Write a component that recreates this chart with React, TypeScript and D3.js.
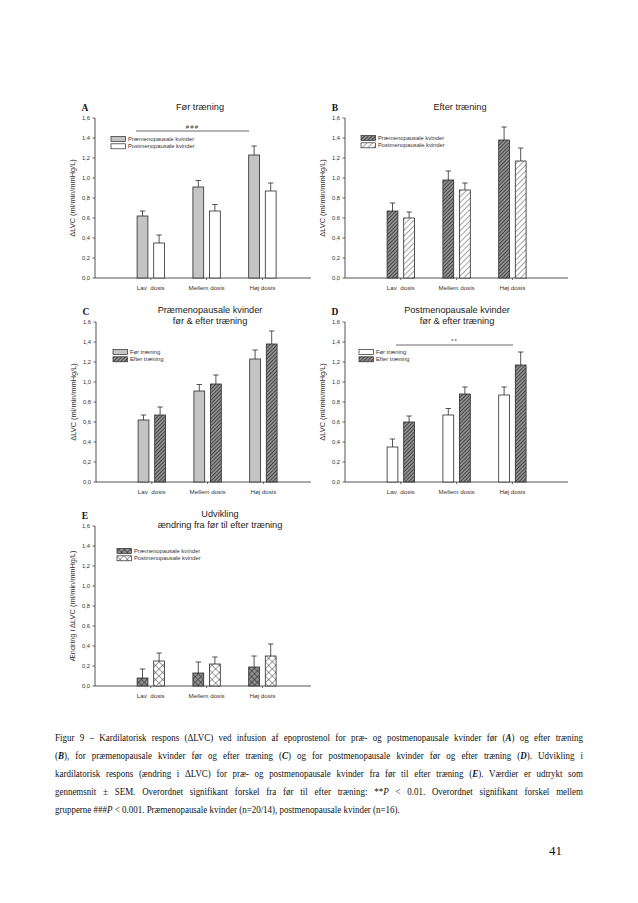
import React from "react";
import * as d3 from "d3";

// ---------- data ----------
const categories = ["Lav  dosis", "Mellem dosis", "Høj dosis"];
const yTickValues = [0, 0.2, 0.4, 0.6, 0.8, 1.0, 1.2, 1.4, 1.6];

const preBefore = [0.62, 0.91, 1.23];
const preBeforeSem = [0.05, 0.065, 0.09];
const postBefore = [0.35, 0.67, 0.87];
const postBeforeSem = [0.08, 0.065, 0.08];
const preAfter = [0.67, 0.98, 1.38];
const preAfterSem = [0.08, 0.09, 0.13];
const postAfter = [0.6, 0.88, 1.17];
const postAfterSem = [0.06, 0.07, 0.13];
const preChange = [0.08, 0.13, 0.19];
const preChangeSem = [0.09, 0.11, 0.11];
const postChange = [0.25, 0.22, 0.3];
const postChangeSem = [0.08, 0.07, 0.12];

const captionLines = [
  "Figur 9 – Kardilatorisk respons (ΔLVC) ved infusion af epoprostenol for præ- og postmenopausale kvinder før (|A|) og efter træning",
  "(|B|), for præmenopausale kvinder før og efter træning (|C|) og for postmenopausale kvinder før og efter træning (|D|). Udvikling i",
  "kardilatorisk respons (ændring i ΔLVC) for præ- og postmenopausale kvinder fra før til efter træning (|E|). Værdier er udtrykt som",
  "gennemsnit ± SEM. Overordnet signifikant forskel fra før til efter træning: **~P~ < 0.01. Overordnet signifikant forskel mellem",
  "grupperne ###~P~ < 0.001. Præmenopausale kvinder (n=20/14), postmenopausale kvinder (n=16).",
];

const SANS = "'Liberation Sans', Arial, sans-serif";
const SERIF = "'Liberation Serif', 'Times New Roman', serif";
const INK = "#2a2a2a";

type Series = { label: string; values: number[]; sem: number[]; fill: string };

type PanelProps = {
  letter: string;
  title: string[];
  x0: number;
  xRight: number;
  yBottom: number;
  yTop: number;
  yLabel: string;
  series: Series[];
  legendDx: number;
  legendDy: number;
  sig?: { from: number; to: number; value: number; text: string };
  titleCx: number;
};

function Panel(p: PanelProps) {
  const y = d3.scaleLinear().domain([0, 1.6]).range([p.yBottom, p.yTop]);
  const x = d3.scaleLinear().domain([0, 1]).range([p.x0, p.x0 + 55.8]);
  const barW = 10.8;
  const off = 8.3;
  const fmt = (v: number) => d3.format(".1f")(v).replace(".", ",");
  const mid = (p.yBottom + p.yTop) / 2;
  return (
    <g>
      <text x={p.x0 - 10} y={p.yTop - 7.5} fontFamily={SERIF} fontWeight="bold" fontSize={9.5} textAnchor="middle" fill="#111">
        {p.letter}
      </text>
      {p.title.map((t, i) => (
        <text key={i} x={p.titleCx} y={p.yTop - 8 + i * 10.5 + (p.title.length > 1 ? -1 : 0)} fontFamily={SANS} fontSize={9.2} textAnchor="middle" fill="#222">
          {t}
        </text>
      ))}
      <line x1={p.x0} x2={p.x0} y1={y(0)} y2={y(1.6)} stroke={INK} strokeWidth={0.8} />
      {yTickValues.map((v) => (
        <g key={v}>
          <line x1={p.x0 - 2.5} x2={p.x0} y1={y(v)} y2={y(v)} stroke={INK} strokeWidth={0.7} />
          <text x={p.x0 - 5} y={y(v) + 2} fontFamily={SANS} fontSize={5.8} textAnchor="end" fill="#333">
            {fmt(v)}
          </text>
        </g>
      ))}
      <text
        transform={`translate(${p.x0 - 20},${mid}) rotate(-90)`}
        fontFamily={SANS}
        fontSize={7.4}
        textAnchor="middle"
        fill="#333"
      >
        {p.yLabel}
      </text>
      <line x1={p.x0} x2={p.xRight} y1={y(0)} y2={y(0)} stroke={INK} strokeWidth={0.8} />
      {categories.map((c, i) => (
        <g key={c}>
          <line x1={x(i + 1)} x2={x(i + 1)} y1={y(0)} y2={y(0) + 2} stroke={INK} strokeWidth={0.7} />
          <text x={x(i + 1)} y={y(0) + 12} fontFamily={SANS} fontSize={6.2} textAnchor="middle" fill="#333" style={{ whiteSpace: "pre" }}>
            {c}
          </text>
        </g>
      ))}
      {p.series.map((s, si) =>
        s.values.map((v, i) => {
          const cx = x(i + 1) + (si === 0 ? -off : off);
          const top = y(v);
          const eTop = y(v + s.sem[i]);
          return (
            <g key={`${si}-${i}`}>
              <line x1={cx} x2={cx} y1={top} y2={eTop} stroke={INK} strokeWidth={0.8} />
              <line x1={cx - 2.7} x2={cx + 2.7} y1={eTop} y2={eTop} stroke={INK} strokeWidth={0.8} />
              <rect x={cx - barW / 2} y={top} width={barW} height={y(0) - top} fill={s.fill} stroke={INK} strokeWidth={0.8} />
            </g>
          );
        })
      )}
      {p.series.map((s, si) => {
        const lx = p.x0 + p.legendDx;
        const ly = p.yTop + p.legendDy + si * 7.3;
        return (
          <g key={s.label}>
            <rect x={lx} y={ly - 2.5} width={14.5} height={5} fill={s.fill} stroke={INK} strokeWidth={0.7} />
            <text x={lx + 17} y={ly + 2} fontFamily={SANS} fontSize={5.8} fill="#333">
              {s.label}
            </text>
          </g>
        );
      })}
      {p.sig && (
        <g>
          <line x1={p.sig.from} x2={p.sig.to} y1={y(p.sig.value)} y2={y(p.sig.value)} stroke={INK} strokeWidth={0.7} />
          <text x={(p.sig.from + p.sig.to) / 2} y={y(p.sig.value) - 2.5} fontFamily={SANS} fontSize={6} textAnchor="middle" fill="#333" letterSpacing={1.2}>
            {p.sig.text}
          </text>
        </g>
      )}
    </g>
  );
}

// ---------- caption with word-spacing justification ----------
const CAP_SIZE = 10.3;
const CAP_SCALE = 0.87;
const CAP_LEFT = 55;
const CAP_WIDTH = 528;

type Seg = { t: string; b: boolean; i: boolean };

function parseWord(w: string): Seg[] {
  return w
    .split(/(\|[^|]+\||~[^~]+~)/)
    .filter((s) => s.length > 0)
    .map((s) => {
      if (s.startsWith("|")) return { t: s.slice(1, -1), b: true, i: true };
      if (s.startsWith("~")) return { t: s.slice(1, -1), b: false, i: true };
      return { t: s, b: false, i: false };
    });
}

let ctx: CanvasRenderingContext2D | null = null;
function measure(seg: Seg): number {
  if (!ctx && typeof document !== "undefined") {
    ctx = document.createElement("canvas").getContext("2d");
  }
  if (!ctx) return seg.t.length * CAP_SIZE * 0.45;
  ctx.font = `${seg.i ? "italic " : ""}${seg.b ? "bold " : ""}${CAP_SIZE}px "Liberation Serif"`;
  return ctx.measureText(seg.t).width;
}

function CaptionLine({ text, y, justify }: { text: string; y: number; justify: boolean }) {
  const words = text.split(" ").map(parseWord);
  const widths = words.map((segs) => segs.reduce((a, s) => a + measure(s), 0) * CAP_SCALE);
  const total = widths.reduce((a, b) => a + b, 0);
  const normalGap = measure({ t: " ", b: false, i: false }) * CAP_SCALE;
  const gap = justify && words.length > 1 ? (CAP_WIDTH - total) / (words.length - 1) : normalGap;
  let xPos = CAP_LEFT;
  return (
    <g>
      {words.map((segs, wi) => {
        const xx = xPos;
        xPos += widths[wi] + gap;
        return (
          <text
            key={wi}
            transform={`translate(${xx},${y}) scale(${CAP_SCALE},1)`}
            fontFamily={SERIF}
            fontSize={CAP_SIZE}
            fill="#111"
          >
            {segs.map((s, si) => (
              <tspan key={si} fontWeight={s.b ? "bold" : "normal"} fontStyle={s.i ? "italic" : "normal"}>
                {s.t}
              </tspan>
            ))}
          </text>
        );
      })}
    </g>
  );
}

export default function App() {
  const gray = "#c4c4c4";
  const white = "#ffffff";
  const hatchDark = "url(#hatchDark)";
  const hatchLight = "url(#hatchLight)";
  const crossDark = "url(#crossDark)";
  const crossLight = "url(#crossLight)";
  const yLabel = "ΔLVC (ml/min/mmHg/L)";

  return (
    <svg width={638} height={903} style={{ position: "absolute", left: 0, top: 0, background: "#fff" }}>
      <defs>
        <pattern id="hatchDark" width={2.6} height={2.6} patternUnits="userSpaceOnUse" patternTransform="rotate(45)">
          <rect width={2.6} height={2.6} fill="#8f8f8f" />
          <line x1={0} y1={0} x2={0} y2={2.6} stroke="#1e1e1e" strokeWidth={1.2} />
        </pattern>
        <pattern id="hatchLight" width={4} height={4} patternUnits="userSpaceOnUse" patternTransform="rotate(45)">
          <rect width={4} height={4} fill="#fff" />
          <line x1={0} y1={0} x2={0} y2={4} stroke="#333" strokeWidth={0.9} />
        </pattern>
        <pattern id="crossDark" width={4} height={4} patternUnits="userSpaceOnUse" patternTransform="rotate(45)">
          <rect width={4} height={4} fill="#8e8e8e" />
          <line x1={0} y1={0} x2={0} y2={4} stroke="#222" strokeWidth={1} />
          <line x1={0} y1={0} x2={4} y2={0} stroke="#222" strokeWidth={1} />
        </pattern>
        <pattern id="crossLight" width={5} height={5} patternUnits="userSpaceOnUse" patternTransform="rotate(45)">
          <rect width={5} height={5} fill="#fff" />
          <line x1={0} y1={0} x2={0} y2={5} stroke="#333" strokeWidth={0.9} />
          <line x1={0} y1={0} x2={5} y2={0} stroke="#333" strokeWidth={0.9} />
        </pattern>
      </defs>
      <rect width={638} height={903} fill="#fff" />

      <Panel
        letter="A"
        title={["Før træning"]}
        titleCx={200}
        x0={95}
        xRight={311}
        yBottom={278}
        yTop={118}
        yLabel={yLabel}
        legendDx={16}
        legendDy={21}
        sig={{ from: 136, to: 249, value: 1.47, text: "###" }}
        series={[
          { label: "Præmenopausale kvinder", values: preBefore, sem: preBeforeSem, fill: gray },
          { label: "Postmenopausale kvinder", values: postBefore, sem: postBeforeSem, fill: white },
        ]}
      />
      <Panel
        letter="B"
        title={["Efter træning"]}
        titleCx={460}
        x0={345}
        xRight={568}
        yBottom={278}
        yTop={118}
        yLabel={yLabel}
        legendDx={16}
        legendDy={20}
        series={[
          { label: "Præmenopausale kvinder", values: preAfter, sem: preAfterSem, fill: hatchDark },
          { label: "Postmenopausale kvinder", values: postAfter, sem: postAfterSem, fill: hatchLight },
        ]}
      />
      <Panel
        letter="C"
        title={["Præmenopausale kvinder", "før & efter træning"]}
        titleCx={210}
        x0={96}
        xRight={311}
        yBottom={482}
        yTop={322}
        yLabel={yLabel}
        legendDx={17}
        legendDy={30}
        series={[
          { label: "Før træning", values: preBefore, sem: preBeforeSem, fill: gray },
          { label: "Efter træning", values: preAfter, sem: preAfterSem, fill: hatchDark },
        ]}
      />
      <Panel
        letter="D"
        title={["Postmenopausale kvinder", "før & efter træning"]}
        titleCx={457}
        x0={345}
        xRight={568}
        yBottom={482}
        yTop={322}
        yLabel={yLabel}
        legendDx={14}
        legendDy={30}
        sig={{ from: 396, to: 513, value: 1.37, text: "**" }}
        series={[
          { label: "Før træning", values: postBefore, sem: postBeforeSem, fill: white },
          { label: "Efter træning", values: postAfter, sem: postAfterSem, fill: hatchDark },
        ]}
      />
      <Panel
        letter="E"
        title={["Udvikling", "ændring fra før til efter træning"]}
        titleCx={220}
        x0={95}
        xRight={311}
        yBottom={686}
        yTop={526}
        yLabel={"Ændring i ΔLVC (ml/min/mmHg/L)"}
        legendDx={22}
        legendDy={25}
        series={[
          { label: "Præmenopausale kvinder", values: preChange, sem: preChangeSem, fill: crossDark },
          { label: "Postmenopausale kvinder", values: postChange, sem: postChangeSem, fill: crossLight },
        ]}
      />

      {captionLines.map((l, i) => (
        <CaptionLine key={i} text={l} y={741 + i * 18} justify={i < captionLines.length - 1} />
      ))}

      <text x={562} y={855} fontFamily={SERIF} fontSize={13} textAnchor="end" fill="#111">
        41
      </text>
    </svg>
  );
}
